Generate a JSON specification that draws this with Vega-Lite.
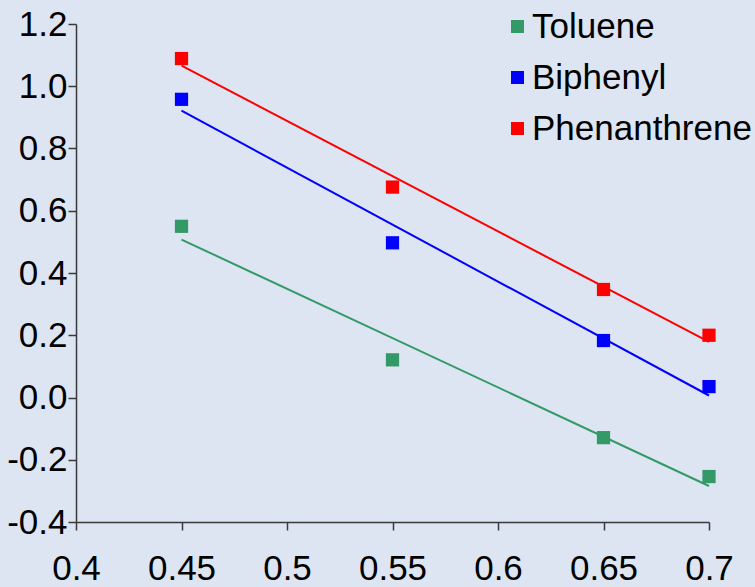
{
  "$schema": "https://vega.github.io/schema/vega-lite/v6.json",
  "width": 633,
  "height": 498,
  "autosize": {"type": "none"},
  "padding": {"left": 76, "top": 24, "right": 46, "bottom": 65},
  "background": "#dce5f1",
  "data": {
    "values": [
      {"x": 0.45, "y": 0.55, "compound": "Toluene"},
      {"x": 0.55, "y": 0.121, "compound": "Toluene"},
      {"x": 0.65, "y": -0.129, "compound": "Toluene"},
      {"x": 0.7, "y": -0.254, "compound": "Toluene"},
      {"x": 0.45, "y": 0.958, "compound": "Biphenyl"},
      {"x": 0.55, "y": 0.497, "compound": "Biphenyl"},
      {"x": 0.65, "y": 0.183, "compound": "Biphenyl"},
      {"x": 0.7, "y": 0.035, "compound": "Biphenyl"},
      {"x": 0.45, "y": 1.089, "compound": "Phenanthrene"},
      {"x": 0.55, "y": 0.676, "compound": "Phenanthrene"},
      {"x": 0.65, "y": 0.347, "compound": "Phenanthrene"},
      {"x": 0.7, "y": 0.2, "compound": "Phenanthrene"}
    ]
  },
  "config": {
    "view": {"stroke": null},
    "font": "Liberation Sans",
    "axis": {
      "grid": false,
      "labelFont": "Liberation Sans",
      "labelFontSize": 35,
      "labelColor": "#000000",
      "domainColor": "#3a3a3a",
      "tickColor": "#3a3a3a",
      "domainWidth": 1.5,
      "tickWidth": 1.5,
      "tickSize": 8,
      "title": null
    },
    "legend": {
      "labelFont": "Liberation Sans",
      "labelFontSize": 35,
      "labelColor": "#000000"
    }
  },
  "layer": [
    {
      "transform": [
        {"regression": "y", "on": "x", "groupby": ["compound"], "extent": [0.45, 0.7]}
      ],
      "mark": {"type": "line", "strokeWidth": 2},
      "encoding": {
        "x": {"field": "x", "type": "quantitative"},
        "y": {"field": "y", "type": "quantitative"},
        "color": {
          "field": "compound",
          "type": "nominal",
          "scale": {"domain": ["Toluene", "Biphenyl", "Phenanthrene"], "range": ["#339966", "#0000ff", "#ff0000"]},
          "legend": null
        }
      }
    },
    {
      "mark": {"type": "point", "shape": "square", "filled": true, "opacity": 1, "size": 175},
      "encoding": {
        "x": {
          "field": "x",
          "type": "quantitative",
          "scale": {"domain": [0.4, 0.7], "zero": false, "nice": false},
          "axis": {"values": [0.4, 0.45, 0.5, 0.55, 0.6, 0.65, 0.7], "format": "~g", "labelPadding": 21, "labelFlush": false}
        },
        "y": {
          "field": "y",
          "type": "quantitative",
          "scale": {"domain": [-0.4, 1.2], "zero": false, "nice": false},
          "axis": {
            "values": [-0.4, -0.2, 0, 0.2, 0.4, 0.6, 0.8, 1.0, 1.2],
            "labelExpr": "replace(format(datum.value, '.1f'), '\u2212', '-')",
            "labelPadding": 1,
            "labelFlush": false
          }
        },
        "color": {
          "field": "compound",
          "type": "nominal",
          "scale": {"domain": ["Toluene", "Biphenyl", "Phenanthrene"], "range": ["#339966", "#0000ff", "#ff0000"]},
          "legend": {
            "title": null,
            "orient": "none",
            "legendX": 424,
            "legendY": -15,
            "padding": 0,
            "symbolType": "square",
            "symbolSize": 169,
            "symbolOpacity": 1,
            "symbolStrokeWidth": 0,
            "labelOffset": -3,
            "labelLimit": 0,
            "rowPadding": 15
          }
        }
      }
    }
  ],
  "resolve": {"scale": {"color": "independent"}}
}
